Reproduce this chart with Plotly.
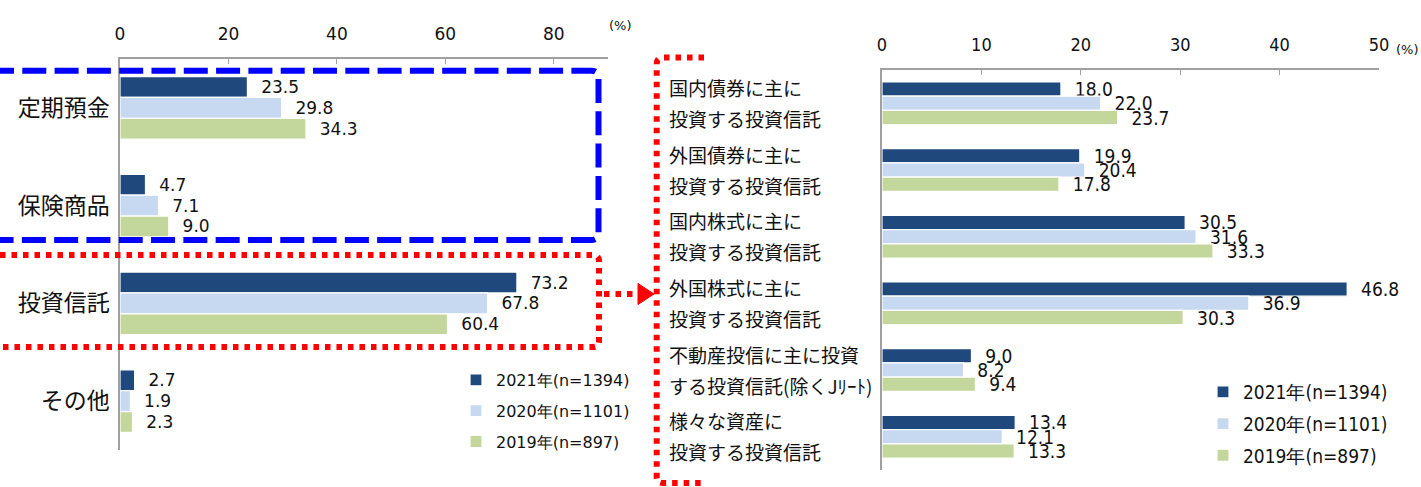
import plotly.graph_objects as go

# ---------------- data ----------------
left_categories = ["定期預金", "保険商品", "投資信託", "その他"]
left_2021 = [23.5, 4.7, 73.2, 2.7]
left_2020 = [29.8, 7.1, 67.8, 1.9]
left_2019 = [34.3, 9.0, 60.4, 2.3]

right_categories = [
    "国内債券に主に<br>投資する投資信託",
    "外国債券に主に<br>投資する投資信託",
    "国内株式に主に<br>投資する投資信託",
    "外国株式に主に<br>投資する投資信託",
    "不動産投信に主に投資<br>する投資信託(除くJﾘｰﾄ)",
    "様々な資産に<br>投資する投資信託",
]
right_2021 = [18.0, 19.9, 30.5, 46.8, 9.0, 13.4]
right_2020 = [22.0, 20.4, 31.6, 36.9, 8.2, 12.1]
right_2019 = [23.7, 17.8, 33.3, 30.3, 9.4, 13.3]

series_names = ["2021年(n=1394)", "2020年(n=1101)", "2019年(n=897)"]
colors = ["#1F497D", "#C6D9F1", "#C3D69B"]

W, H = 1421, 487
def px(x):
    return x / W
def py(y):
    return 1 - y / H

NUM_FONT = "DejaVu Sans"
NUM_FONT_C = "DejaVu Sans Condensed, DejaVu Sans"
JP_FONT = "Noto Sans CJK JP"

fig = go.Figure()

left_vals = [left_2021, left_2020, left_2019]
right_vals = [right_2021, right_2020, right_2019]

for i in range(3):
    fig.add_trace(go.Bar(
        y=left_categories, x=left_vals[i], orientation="h",
        name=series_names[i], marker=dict(color=colors[i], line=dict(color="white", width=1.2)),
        text=left_vals[i], texttemplate="\u00a0\u00a0%{x:.1f}", textposition="outside",
        constraintext="none", cliponaxis=False,
        textfont=dict(family=NUM_FONT, size=17, color="#111"),
        xaxis="x", yaxis="y", legend="legend", legendgroup="L%d" % i,
        hoverinfo="skip",
    ))

for i in range(3):
    fig.add_trace(go.Bar(
        y=right_categories, x=right_vals[i], orientation="h",
        name=series_names[i], marker=dict(color=colors[i], line=dict(color="white", width=1.2)),
        text=right_vals[i], texttemplate="\u00a0\u00a0%{x:.1f}", textposition="outside",
        constraintext="none", cliponaxis=False,
        textfont=dict(family=NUM_FONT_C, size=19, color="#111"),
        xaxis="x2", yaxis="y2", legend="legend2", legendgroup="R%d" % i,
        hoverinfo="skip",
    ))

axis_common = dict(showline=True, linecolor="#A0A0A0", linewidth=1.5, showgrid=False,
                   zeroline=False, automargin=False, fixedrange=True)

fig.update_layout(
    width=W, height=H,
    margin=dict(l=0, r=0, t=0, b=0),
    paper_bgcolor="white", plot_bgcolor="white",
    barmode="group", bargap=0.36, bargroupgap=0,
    xaxis=dict(domain=[px(120), px(608)], range=[0, 90], side="top", anchor="y",
               tickvals=[0, 20, 40, 60, 80], ticks="inside", ticklen=5, tickcolor="#A0A0A0",
               tickfont=dict(family=NUM_FONT, size=17, color="#111"), ticklabelstandoff=10,
               **axis_common),
    yaxis=dict(domain=[py(450), py(59)], anchor="x", autorange="reversed",
               ticks="", tickfont=dict(family=JP_FONT, size=23, color="#111"),
               ticklabelstandoff=4, **axis_common),
    xaxis2=dict(domain=[px(882), px(1379)], range=[0, 50], side="top", anchor="y2",
                tickvals=[0, 10, 20, 30, 40, 50], ticks="inside", ticklen=5, tickcolor="#A0A0A0",
                tickfont=dict(family=NUM_FONT_C, size=18, color="#111"), ticklabelstandoff=10,
                **axis_common),
    yaxis2=dict(domain=[py(470), py(70)], anchor="x2", autorange="reversed",
                ticks="", showticklabels=False, **axis_common),
    legend=dict(x=px(456), y=py(363), xanchor="left", yanchor="top",
                font=dict(family=NUM_FONT, size=16, color="#111"),
                tracegroupgap=7, bgcolor="rgba(0,0,0,0)", itemclick=False, itemdoubleclick=False),
    legend2=dict(x=px(1203), y=py(373), xanchor="left", yanchor="top",
                 font=dict(family=NUM_FONT_C, size=19, color="#111"),
                 tracegroupgap=4, bgcolor="rgba(0,0,0,0)", itemclick=False, itemdoubleclick=False),
    showlegend=True,
)

annotations = [
    dict(text="(%)", x=px(620), y=py(16), xref="paper", yref="paper", showarrow=False,
         font=dict(family=NUM_FONT, size=13, color="#111")),
    dict(text="(%)", x=px(1421), y=py(40), xref="paper", yref="paper", showarrow=False,
         xanchor="right", font=dict(family=NUM_FONT, size=13, color="#111")),
]
for cat in right_categories:
    lines = cat.split("<br>")
    for j, line in enumerate(lines):
        annotations.append(dict(
            text=line, x=px(667), y=cat, xref="paper", yref="y2", xanchor="left",
            yanchor="middle", yshift=16 if j == 0 else -15, showarrow=False,
            font=dict(family=JP_FONT, size=19, color="#111")))
fig.update_layout(annotations=annotations)

def P(x, y):
    return "%.5f,%.5f" % (px(x), py(y))

shapes = []
# blue dashed box
blue_path = ("M " + P(-10, 70.7) + " L " + P(591, 70.7) + " Q " + P(598.5, 70.7) + " " + P(598.5, 78)
             + " L " + P(598.5, 233) + " Q " + P(598.5, 240) + " " + P(591, 240) + " L " + P(-10, 240))
shapes.append(dict(type="path", path=blue_path, xref="paper", yref="paper",
                   line=dict(color="#0000FF", width=6, dash="24px,8.3px")))
# red dotted box
red_path = ("M " + P(0, 255) + " L " + P(593, 255) + " Q " + P(599, 255) + " " + P(599, 261)
            + " L " + P(599, 341) + " Q " + P(599, 347) + " " + P(593, 347) + " L " + P(0, 347))
shapes.append(dict(type="path", path=red_path, xref="paper", yref="paper",
                   line=dict(color="#FF0000", width=6, dash="5.5px,6px")))
# red dotted arrow
shapes.append(dict(type="path", path="M " + P(604, 294) + " L " + P(640, 294), xref="paper", yref="paper",
                   line=dict(color="#FF0000", width=6, dash="5.5px,6px")))
shapes.append(dict(type="path", path="M " + P(638, 283.5) + " L " + P(654, 294) + " L " + P(638, 304.5) + " Z",
                   xref="paper", yref="paper", fillcolor="#FF0000", line=dict(color="#FF0000", width=1)))
# red dotted bracket on the right
bracket = ("M " + P(704, 57.5) + " L " + P(663, 57.5) + " Q " + P(656.7, 57.5) + " " + P(656.7, 64)
           + " L " + P(656.7, 477) + " Q " + P(656.7, 483) + " " + P(663, 483) + " L " + P(704, 483))
shapes.append(dict(type="path", path=bracket, xref="paper", yref="paper",
                   line=dict(color="#FF0000", width=6, dash="5.5px,6px")))
fig.update_layout(shapes=shapes)

fig.write_html("out.html", config={"displayModeBar": False},
               post_script="document.body.style.margin='0';document.body.style.overflow='hidden';")
